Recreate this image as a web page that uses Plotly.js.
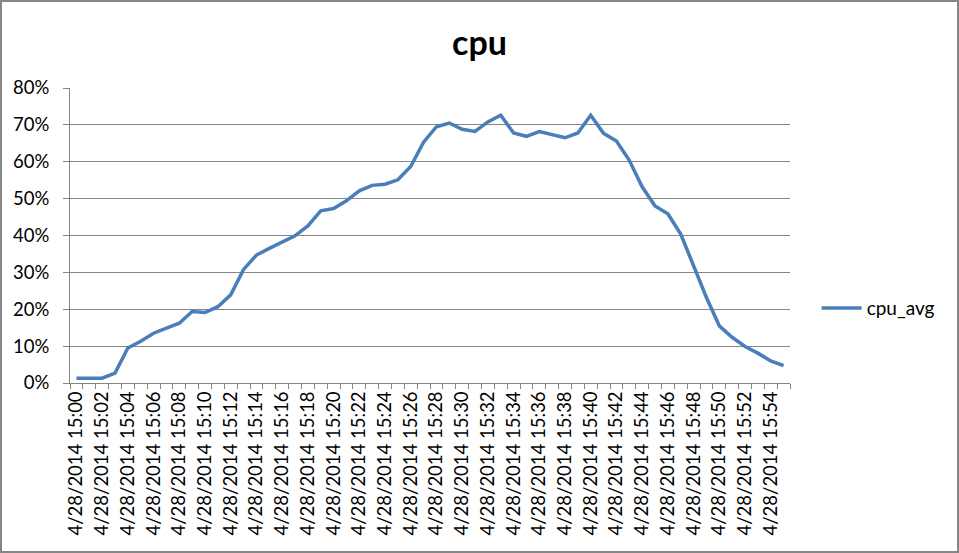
<!DOCTYPE html>
<html>
<head>
<meta charset="utf-8">
<script src="https://cdn.plot.ly/plotly-3.0.1.min.js"></script>
<style>
  html, body { margin: 0; padding: 0; background: #fff; }
  #chart { width: 955px; height: 549px; border: 2px solid #868686; }
</style>
</head>
<body>
<div id="chart"></div>
<script>
const times = [
  "4/28/2014 15:00","4/28/2014 15:01","4/28/2014 15:02","4/28/2014 15:03","4/28/2014 15:04",
  "4/28/2014 15:05","4/28/2014 15:06","4/28/2014 15:07","4/28/2014 15:08","4/28/2014 15:09",
  "4/28/2014 15:10","4/28/2014 15:11","4/28/2014 15:12","4/28/2014 15:13","4/28/2014 15:14",
  "4/28/2014 15:15","4/28/2014 15:16","4/28/2014 15:17","4/28/2014 15:18","4/28/2014 15:19",
  "4/28/2014 15:20","4/28/2014 15:21","4/28/2014 15:22","4/28/2014 15:23","4/28/2014 15:24",
  "4/28/2014 15:25","4/28/2014 15:26","4/28/2014 15:27","4/28/2014 15:28","4/28/2014 15:29",
  "4/28/2014 15:30","4/28/2014 15:31","4/28/2014 15:32","4/28/2014 15:33","4/28/2014 15:34",
  "4/28/2014 15:35","4/28/2014 15:36","4/28/2014 15:37","4/28/2014 15:38","4/28/2014 15:39",
  "4/28/2014 15:40","4/28/2014 15:41","4/28/2014 15:42","4/28/2014 15:43","4/28/2014 15:44",
  "4/28/2014 15:45","4/28/2014 15:46","4/28/2014 15:47","4/28/2014 15:48","4/28/2014 15:49",
  "4/28/2014 15:50","4/28/2014 15:51","4/28/2014 15:52","4/28/2014 15:53","4/28/2014 15:54",
  "4/28/2014 15:55"
];
const cpuAvg = [
  0.013, 0.013, 0.013, 0.027, 0.095, 0.113, 0.135, 0.149, 0.162, 0.194,
  0.191, 0.207, 0.239, 0.308, 0.347, 0.365, 0.383, 0.399, 0.426, 0.467,
  0.473, 0.494, 0.521, 0.536, 0.539, 0.551, 0.587, 0.653, 0.695, 0.705,
  0.688, 0.682, 0.708, 0.726, 0.678, 0.669, 0.682, 0.674, 0.665, 0.678,
  0.726, 0.677, 0.656, 0.604, 0.532, 0.480, 0.459, 0.404, 0.320, 0.232,
  0.155, 0.124, 0.099, 0.081, 0.060, 0.047
];
const seriesName = "cpu_avg";
const chartTitle = "cpu";
// label every other category, blank in between
const tickLabels = times.map((t, i) => (i % 2 === 0 ? t : ""));

const font = "Lato, 'Open Sans', sans-serif";
const gray = "#868686";

Plotly.newPlot("chart", [{
  type: "scatter",
  mode: "lines",
  x: times,
  y: cpuAvg,
  name: seriesName,
  line: { color: "#4a7ebb", width: 3.5 }
}], {
  width: 955,
  height: 549,
  margin: { l: 68, r: 167, t: 86, b: 168 },
  paper_bgcolor: "#fff",
  plot_bgcolor: "#fff",
  font: { family: font, color: "#000", size: 18 },
  title: {
    text: "<b>" + chartTitle + "</b>",
    font: { family: font, size: 34, color: "#000" },
    x: 0.5, xanchor: "center",
    y: 0.925, yanchor: "middle", yref: "container"
  },
  xaxis: {
    type: "category",
    tickmode: "array",
    tickvals: times,
    ticktext: tickLabels,
    tickangle: -90,
    tickson: "boundaries",
    ticks: "outside",
    ticklen: 5,
    tickcolor: gray,
    showline: true,
    linecolor: gray,
    linewidth: 1,
    showgrid: false,
    zeroline: false,
    tickfont: { family: font, size: 18.5, color: "#000" },
    range: [-0.5, times.length - 0.5],
    fixedrange: true
  },
  yaxis: {
    range: [0, 0.8],
    dtick: 0.1,
    tick0: 0,
    tickformat: ".0%",
    ticks: "outside",
    ticklen: 6,
    tickcolor: gray,
    ticklabelstandoff: 10,
    showline: true,
    linecolor: gray,
    linewidth: 1,
    showgrid: true,
    gridcolor: gray,
    gridwidth: 1,
    zeroline: false,
    tickfont: { family: font, size: 18.5, color: "#000" },
    fixedrange: true
  },
  showlegend: true,
  legend: {
    x: 1.037, xanchor: "left",
    y: 0.254, yanchor: "middle",
    itemwidth: 40,
    font: { family: font, size: 19, color: "#000" },
    bgcolor: "rgba(0,0,0,0)"
  }
}, { displayModeBar: false, staticPlot: true });
</script>
</body>
</html>
